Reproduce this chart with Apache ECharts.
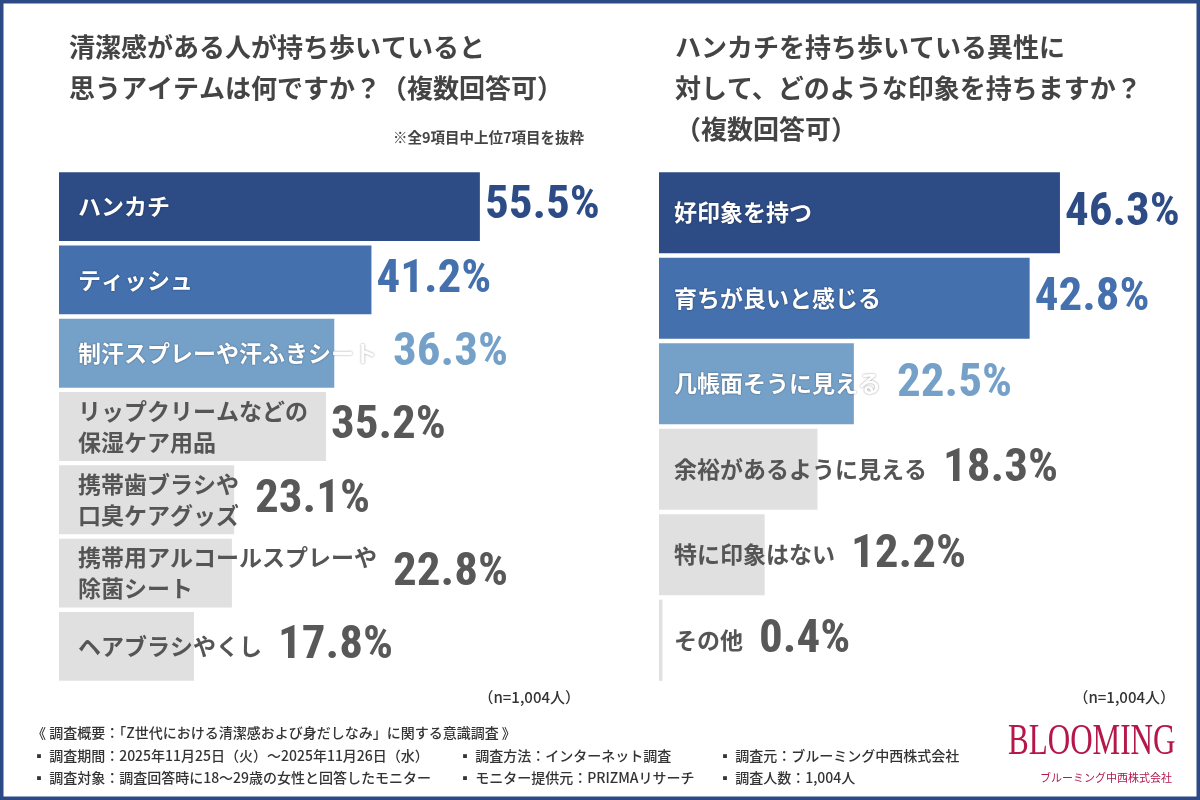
<!DOCTYPE html>
<html>
<head>
<meta charset="utf-8">
<title>ハンカチと清潔感</title>
<script src="https://cdn.jsdelivr.net/npm/echarts@6/dist/echarts.min.js"></script>
<style>
  html, body { margin: 0; padding: 0; background: #fff; }
  #main { width: 1200px; height: 800px; }
</style>
</head>
<body>
<div id="main"></div>
<script>
// 左：清潔感がある人が持ち歩いていると思うアイテム
var leftNames = ['ハンカチ', 'ティッシュ', '制汗スプレーや汗ふきシート', 'リップクリームなどの\n保湿ケア用品',
  '携帯歯ブラシや\n口臭ケアグッズ', '携帯用アルコールスプレーや\n除菌シート', 'ヘアブラシやくし'];
var leftValues = [55.5, 41.2, 36.3, 35.2, 23.1, 22.8, 17.8];

// 右：ハンカチを持ち歩いている異性への印象
var rightNames = ['好印象を持つ', '育ちが良いと感じる', '几帳面そうに見える', '余裕があるように見える', '特に印象はない', 'その他'];
var rightValues = [46.3, 42.8, 22.5, 18.3, 12.2, 0.4];

var leftTitle = '清潔感がある人が持ち歩いていると\n思うアイテムは何ですか？（複数回答可）';
var rightTitle = 'ハンカチを持ち歩いている異性に\n対して、どのような印象を持ちますか？\n（複数回答可）';
var noteText = '※全9項目中上位7項目を抜粋';
var nText = '（n=1,004人）';

var footerLines = [
  ['《 調査概要：「Z世代における清潔感および身だしなみ」に関する意識調査 》'],
  ['▪ 調査期間：2025年11月25日（火）～2025年11月26日（水）', '▪ 調査方法：インターネット調査', '▪ 調査元：ブルーミング中西株式会社'],
  ['▪ 調査対象：調査回答時に18～29歳の女性と回答したモニター', '▪ モニター提供元：PRIZMAリサーチ', '▪ 調査人数：1,004人']
];

var NAVY = '#2d4c86', MID = '#4470ad', LIGHT = '#75a1c9', GRAY = '#e0e0e0';
var barColors = [NAVY, MID, LIGHT];
var CJK = '"Noto Sans CJK JP", "Noto Sans", sans-serif';
var NUM = '"Liberation Sans Narrow", "Roboto Condensed", "DejaVu Sans Condensed", sans-serif';

var chart = echarts.init(document.getElementById('main'), null, { renderer: 'canvas' });

function barColor(i) { return barColors[i] || GRAY; }
function valueColor(i) { return barColors[i] || '#585858'; }

// 名前ラベルの幅（値ラベルを文字の後ろへ逃がすため）
var ctx = document.createElement('canvas').getContext('2d');
ctx.font = 'bold 23px ' + CJK;
function textWidth(s) {
  return Math.max.apply(null, s.split('\n').map(function (l) { return ctx.measureText(l).width; }));
}

var nameStyle = { fontFamily: CJK, fontSize: 23, fontWeight: 'bold', lineHeight: 31 };

function yAxisOpt(idx, names, margin) {
  return {
    type: 'category', gridIndex: idx, data: names, inverse: true, z: 10,
    axisLine: { show: false }, axisTick: { show: false }, splitLine: { show: false },
    axisLabel: {
      inside: true, margin: margin, align: 'left',
      formatter: function (v, i) {
        var tag = barColors[i] ? 'w' : 'g';
        return v.split('\n').map(function (l) { return '{' + tag + '|' + l + '}'; }).join('\n');
      },
      rich: {
        w: Object.assign({ color: '#fff', textShadowColor: 'rgba(0,0,0,0.45)', textShadowBlur: 2 }, nameStyle),
        g: Object.assign({ color: '#555' }, nameStyle)
      }
    }
  };
}

function seriesOpt(idx, values, gap) {
  return {
    type: 'bar', xAxisIndex: idx, yAxisIndex: idx, barCategoryGap: gap,
    data: values.map(function (v, i) {
      return { value: v, itemStyle: { color: barColor(i) }, label: { color: valueColor(i) } };
    }),
    label: {
      show: true, position: 'right', distance: 5,
      fontFamily: NUM, fontSize: 47, fontWeight: 'bold',
      formatter: function (p) { return p.value.toFixed(1) + '%'; }
    },
    animation: false
  };
}

var footerGraphics = [];
var footerX = [32, 458, 718];
var footerY = [735, 758, 780];
footerLines.forEach(function (line, r) {
  line.forEach(function (t, c) {
    footerGraphics.push({
      type: 'text', left: footerX[c], top: footerY[r] - 9,
      style: { text: t, fill: '#333', font: '500 14px ' + CJK }
    });
  });
});

var option = {
  backgroundColor: '#fff',
  title: [
    { text: leftTitle, left: 69, top: 27, padding: 0,
      textStyle: { fontFamily: CJK, fontSize: 26, fontWeight: 'bold', color: '#444', lineHeight: 41 } },
    { text: rightTitle, left: 675, top: 27, padding: 0,
      textStyle: { fontFamily: CJK, fontSize: 26, fontWeight: 'bold', color: '#444', lineHeight: 41 } }
  ],
  grid: [
    { left: 59, top: 170, width: 455, height: 513 },
    { left: 659, top: 170, width: 433, height: 513 }
  ],
  xAxis: [
    { type: 'value', gridIndex: 0, min: 0, max: 60, show: false },
    { type: 'value', gridIndex: 1, min: 0, max: 50, show: false }
  ],
  yAxis: [yAxisOpt(0, leftNames, 19), yAxisOpt(1, rightNames, 15)],
  series: [seriesOpt(0, leftValues, '6%'), seriesOpt(1, rightValues, '5%')],
  graphic: [
    { type: 'rect', shape: { x: 0, y: 0, width: 1200, height: 800 }, z: 100,
      style: { fill: 'none', stroke: '#2b4a86', lineWidth: 7 } },
    { type: 'text', right: 1200 - 584, top: 130,
      style: { text: noteText, fill: '#444', font: 'bold 14.5px ' + CJK } },
    { type: 'text', right: 1200 - 580, top: 690,
      style: { text: nText, fill: '#333', font: '500 15px ' + CJK } },
    { type: 'text', right: 1200 - 1175, top: 690,
      style: { text: nText, fill: '#333', font: '500 15px ' + CJK } },
    { type: 'text', left: 1008, top: 720, scaleX: 0.74, scaleY: 1.06, originX: 1008, originY: 720,
      style: { text: 'BLOOMING', fill: '#b5174a', font: '42px "Liberation Serif", "DejaVu Serif", serif' } },
    { type: 'text', left: 1040, top: 772,
      style: { text: 'ブルーミング中西株式会社', fill: '#b5174a', font: '11px ' + CJK } }
  ].concat(footerGraphics)
};

chart.setOption(option);

// 値ラベルが名前と重ならないよう、右へずらす量を軸から計算
function shiftLabels(idx, names, values, margin) {
  var x0 = chart.convertToPixel({ xAxisIndex: idx }, 0);
  return values.map(function (v, i) {
    var barEnd = chart.convertToPixel({ xAxisIndex: idx }, v);
    var textEnd = x0 + margin + textWidth(names[i]);
    var dx = Math.max(0, textEnd + 16 - (barEnd + 5));
    return { value: v, itemStyle: { color: barColor(i) }, label: { color: valueColor(i), offset: [dx, 0] } };
  });
}

chart.setOption({
  series: [
    { data: shiftLabels(0, leftNames, leftValues, 19) },
    { data: shiftLabels(1, rightNames, rightValues, 15) }
  ]
});
</script>
</body>
</html>
